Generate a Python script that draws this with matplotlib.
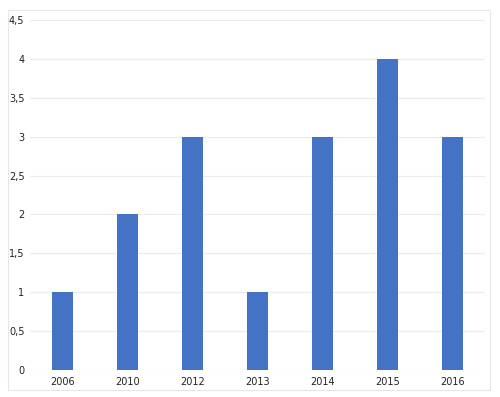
import matplotlib.pyplot as plt
from matplotlib.patches import Rectangle

# data
years = ["2006", "2010", "2012", "2013", "2014", "2015", "2016"]
counts = [1, 2, 3, 1, 3, 4, 3]
yticks = [0, 0.5, 1, 1.5, 2, 2.5, 3, 3.5, 4, 4.5]

fig = plt.figure(figsize=(5, 3.97), dpi=100)
fig.patches.append(Rectangle((8 / 500, 1 - 390 / 397), 482 / 500, 380 / 397,
                             transform=fig.transFigure, fill=False,
                             edgecolor="#e6e6e6", linewidth=0.8))

ax = fig.add_axes([0.06, 1 - 370 / 397, 0.91, (370 - 20) / 397])
x = range(len(years))
ax.bar(x, counts, width=0.32, color="#4472C4", zorder=2)

ax.set_xlim(-0.5, len(years) - 0.5)
ax.set_ylim(0, 4.5)
ax.set_xticks(list(x))
ax.set_xticklabels(years, fontsize=7, color="#222222")
ax.set_yticks(yticks)
ax.set_yticklabels([f"{v:g}".replace(".", ",") for v in yticks], fontsize=7, color="#222222")
ax.tick_params(axis="y", length=0, pad=4)
ax.tick_params(axis="x", length=0, pad=5)
ax.grid(axis="y", color="#ececec", linewidth=0.8, zorder=0)
for s in ax.spines.values():
    s.set_visible(False)

fig.savefig("out.png", dpi=100)
